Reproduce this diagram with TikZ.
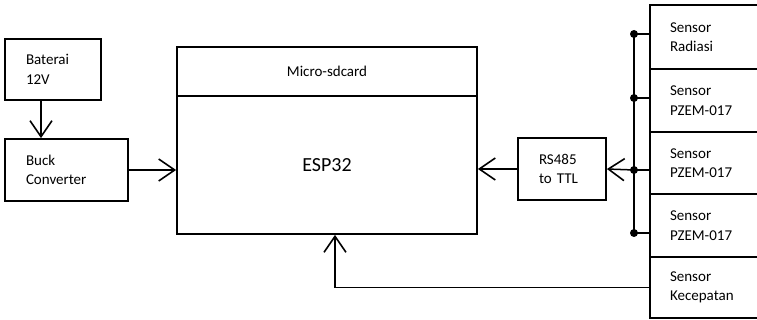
\documentclass[tikz,border=0pt]{standalone}
\usepackage{fontspec}
\setmainfont{Carlito}
\usetikzlibrary{arrows.meta}
\begin{document}
\begin{tikzpicture}[x=1pt,y=-1pt,
  box/.style={draw, line width=1.8pt, inner ysep=0pt, font=\fontsize{15}{19.5}\selectfont},
  lbox/.style={box, align=left},
  arr/.style={line width=1.5pt, -{Straight Barb[length=16pt,width=22pt,line width=1.6pt]}},
  wire/.style={line width=1.5pt},
  dot/.style={circle, fill, inner sep=0pt, minimum size=8pt}
]
\useasboundingbox (0,0) rectangle (757,320);
\clip (0,0) rectangle (757,320);

\node[lbox, minimum width=96pt, minimum height=61pt, inner xsep=21pt, text width=54pt] (bat) at (53,69.5) {Baterai\\12V};
\node[lbox, minimum width=123pt, minimum height=62pt, inner xsep=21pt, text width=81pt] (buck) at (66.5,170) {Buck\\Converter};
\node[box, minimum width=300pt, minimum height=49pt] (sd) at (327,71.5) {Micro-sdcard};
\node[box, minimum width=300pt, minimum height=138pt, font=\fontsize{20}{24}\selectfont] (esp) at (327,165) {ESP32};
\node[lbox, minimum width=88pt, minimum height=62pt, inner xsep=21pt, text width=46pt] (rs) at (562,169) {RS485\\to TTL};

\node[lbox, minimum width=130pt, minimum height=64pt, inner xsep=20pt, text width=90pt] (s1) at (715,37) {Sensor\\Radiasi};
\node[lbox, minimum width=130pt, minimum height=63pt, inner xsep=20pt, text width=90pt] (s2) at (715,100.5) {Sensor\\PZEM-017};
\node[lbox, minimum width=130pt, minimum height=62pt, inner xsep=20pt, text width=90pt] (s3) at (715,163) {Sensor\\PZEM-017};
\node[lbox, minimum width=130pt, minimum height=63pt, inner xsep=20pt, text width=90pt] (s4) at (715,225.5) {Sensor\\PZEM-017};
\node[lbox, minimum width=130pt, minimum height=61pt, inner xsep=20pt, text width=90pt] (s5) at (715,287.5) {Sensor\\Kecepatan};

\node[dot] (d1) at (634,34) {};
\node[dot] (d2) at (634,98) {};
\node[dot] (d3) at (634,170) {};
\node[dot] (d4) at (634,233) {};

\draw[wire] (d1.center) -- (d4.center);
\draw[wire] (d1.center) -- (d1 -| s1.west);
\draw[wire] (d2.center) -- (d2 -| s2.west);
\draw[wire] (d3.center) -- (d3 -| s3.west);
\draw[wire] (d4.center) -- (d4 -| s4.west);

\draw[arr] ([xshift=-12pt]bat.south) -- ([xshift=-12pt]bat.south |- buck.north);
\draw[arr] (buck.east) -- (buck.east -| esp.west);
\draw[arr] (d3.center) -- (rs.east);
\draw[arr] (rs.west) -- (rs.west -| esp.east);
\coordinate (k) at ([xshift=8pt]esp.south);
\draw[arr] (s5.west) -| (k);
\end{tikzpicture}
\end{document}
